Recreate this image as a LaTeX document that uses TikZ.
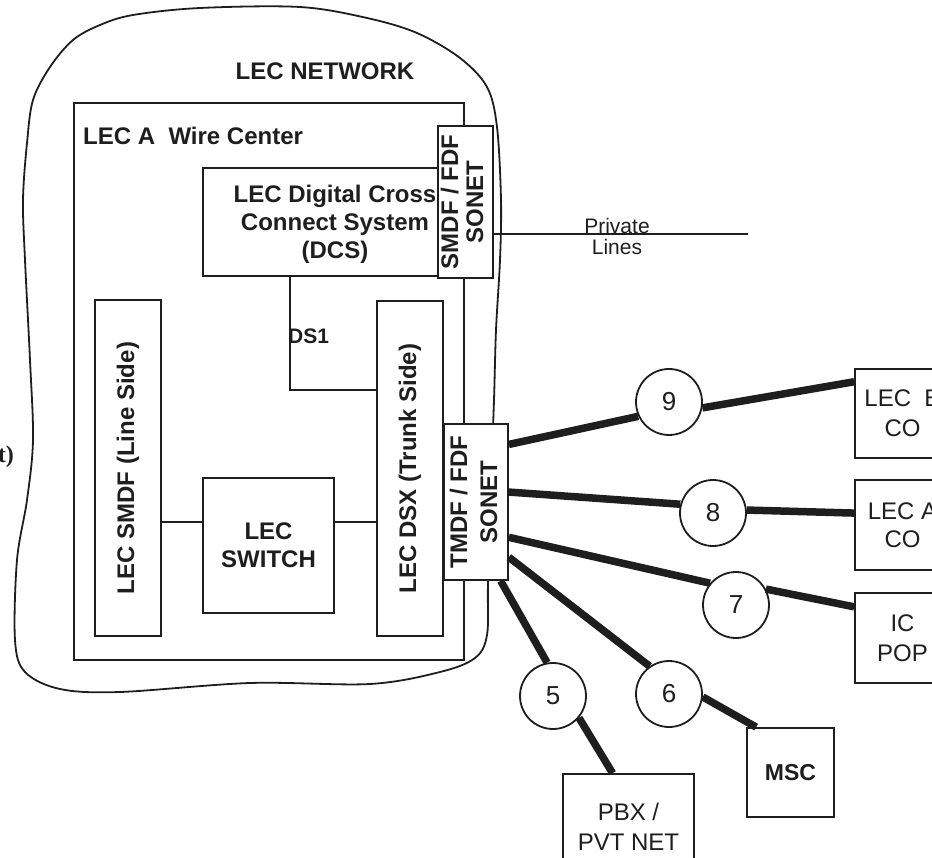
\documentclass[tikz,border=0pt]{standalone}
\usepackage{fontspec}
\setmainfont{Liberation Sans}
\newfontfamily\serifbf{Liberation Serif}
\usetikzlibrary{calc}
\definecolor{ink}{RGB}{30,30,30}
\begin{document}
\begin{tikzpicture}[x=1pt,y=-1pt,
  box/.style={draw=ink, line width=1.7pt, fill=white, inner sep=0pt, text=ink},
  wire/.style={draw=ink, line width=1.7pt},
  trunk/.style={draw=ink, line width=7.5pt},
  circ/.style={circle, draw=ink, line width=1.8pt, fill=white, minimum size=66pt, inner sep=0pt, text=ink, font=\fontsize{26}{26}\selectfont},
  lbl/.style={text=ink, inner sep=0pt, font=\bfseries\fontsize{24}{28}\selectfont},
  bfb/.style={font=\bfseries\fontsize{24}{28}\selectfont},
  rgb/.style={font=\fontsize{24}{30}\selectfont}]
\useasboundingbox (0,0) rectangle (932,858);
\clip (0,0) rectangle (932,858);
% outer LEC network blob
\draw[ink, line width=1.8pt] plot[smooth cycle, tension=0.55] coordinates {
 (100,25) (133,15) (200,8) (300,7) (367,18) (417,33) (460,58) (487,87) (497,127)
 (501,200) (500,260) (496,330) (494,400) (491,480) (488,583) (487,635) (475,658)
 (440,672) (370,684) (250,683) (120,692) (60,689) (25,672) (15,640) (17,560)
 (27,500) (33,440) (30,360) (25,260) (23,200) (27,143) (33,100) (50,67) (73,40)};
\node[lbl, anchor=base] (net) at (325,80) {LEC NETWORK};
% wire center
\node[box, minimum width=390pt, minimum height=557pt] (wc) at (269,381.5) {};
\node[lbl, anchor=base west] (wcl) at (83,145) {LEC A\ \ Wire Center};
% DCS
\node[box, minimum width=235pt, minimum height=108pt] (dcs) at (320.5,222) {};
\node[lbl, align=center] (dcst) at (335,224) {LEC Digital Cross\\Connect System\\(DCS)};
\node[box, minimum width=55pt, minimum height=152pt, font=\bfseries\fontsize{24}{25}\selectfont] (son1) at (465.5,202)
  {\rotatebox{90}{\begin{tabular}{@{}c@{}}SMDF / FDF\\SONET\end{tabular}}};
% private lines
\coordinate (pl) at (748,234);
\draw[ink, line width=1.2pt] (son1.east |- pl) -- (pl);
\node[anchor=north, align=center, text=ink, inner sep=0pt, font=\fontsize{21}{21}\selectfont] (priv) at (617,218) {Private\\Lines};
% line side / switch / trunk side
\node[box, bfb, minimum width=66pt, minimum height=336pt] (smdf) at (128,468) {\rotatebox{90}{LEC SMDF (Line Side)}};
\node[box, bfb, minimum width=131pt, minimum height=135pt, align=center] (sw) at (268.5,545.5) {LEC\\SWITCH};
\node[box, bfb, minimum width=66pt, minimum height=335pt] (dsx) at (410,468.5) {\rotatebox{90}{LEC DSX (Trunk Side)}};
\coordinate (swy) at (0,522);
\draw[wire] (smdf.east |- swy) -- (sw.west |- swy);
\draw[wire] (sw.east |- swy) -- (dsx.west |- swy);
\coordinate (dsb) at (290,390);
\draw[wire] (dcs.south -| dsb) -- (dsb) -- (dsb -| dsx.west);
\node[lbl, font=\bfseries\fontsize{21}{21}\selectfont, anchor=west] (ds1) at (288,336) {DS1};
% TMDF / FDF SONET
\node[box, minimum width=64pt, minimum height=156pt, font=\bfseries\fontsize{24}{30}\selectfont] (tmdf) at (476,502)
  {\rotatebox{90}{\begin{tabular}{@{}c@{}}TMDF / FDF\\SONET\end{tabular}}};
% far-end boxes
\node[box, rgb, minimum width=95pt, minimum height=89pt, align=center] (lecb) at (902.5,413.5) {LEC\ \ B\\CO};
\node[box, font=\fontsize{24}{28}\selectfont, minimum width=95pt, minimum height=90pt, align=center] (leca) at (902.5,525) {LEC A\\CO};
\node[box, rgb, minimum width=95pt, minimum height=90pt, align=center] (icpop) at (902.5,638) {IC\\POP};
\node[box, font=\bfseries\fontsize{23}{23}\selectfont, minimum width=87pt, minimum height=89pt] (msc) at (790.5,772.5) {MSC};
\node[box, rgb, minimum width=131pt, minimum height=106pt, align=center] (pbx) at (628.5,827) {PBX /\\PVT NET};
% circles
\node[circ] (c9) at (669,402) {9};
\node[circ] (c8) at (713,513) {8};
\node[circ] (c7) at (736,605) {7};
\node[circ] (c6) at (669,694) {6};
\node[circ] (c5) at (553,696) {5};
% trunk connection points
\coordinate (s9) at ($(tmdf.north east)!0.135!(tmdf.south east)$);
\coordinate (s8) at ($(tmdf.north east)!0.437!(tmdf.south east)$);
\coordinate (s7) at ($(tmdf.north east)!0.724!(tmdf.south east)$);
\coordinate (s6) at ($(tmdf.north east)!0.85!(tmdf.south east)$);
\coordinate (s5) at ($(tmdf.south west)!0.875!(tmdf.south east)$);
\draw[trunk] (s9) -- (c9.205);
\draw[trunk] (c9.350) -- ($(lecb.north west)!0.15!(lecb.south west)$);
\draw[trunk] (s8) -- (c8.165);
\draw[trunk] (c8.5) -- ($(leca.north west)!0.37!(leca.south west)$);
\draw[trunk] (s7) -- (c7.140);
\draw[trunk] (c7.28) -- ($(icpop.north west)!0.16!(icpop.south west)$);
\draw[trunk] (s6) -- (c6.125);
\draw[trunk] (c6.355) -- ($(msc.north west)+(10,0)$);
\draw[trunk] (s5) -- (c5.100);
\draw[trunk] (c5.320) -- ($(pbx.north west)!0.38!(pbx.north east)$);
% stray label at left edge
\node[anchor=base east, text=ink, inner sep=0pt, font=\serifbf\bfseries\fontsize{24}{24}\selectfont] (tl) at (14,462) {t)};
\end{tikzpicture}
\end{document}
